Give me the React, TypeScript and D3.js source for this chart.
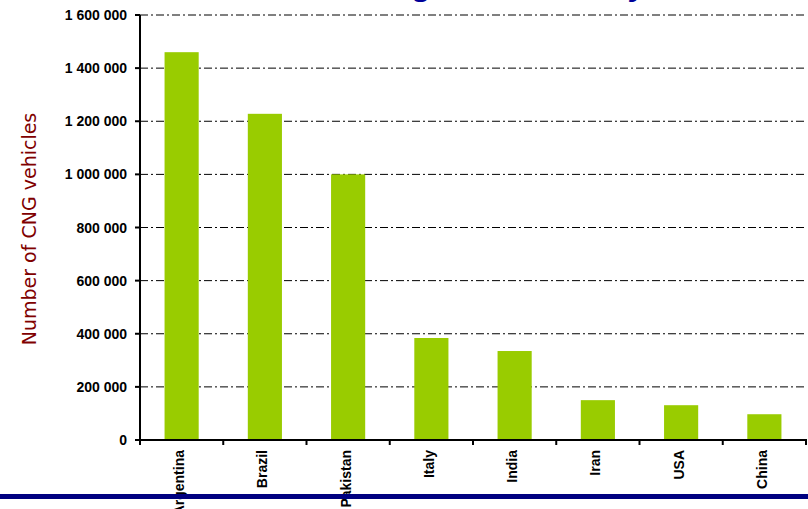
import React from "react";
import * as d3 from "d3";

const countries = ["Argentina", "Brazil", "Pakistan", "Italy", "India", "Iran", "USA", "China"];
const vehicles = [1460000, 1228000, 1000000, 384000, 335000, 150000, 131000, 97000];
const yTicks = [0, 200000, 400000, 600000, 800000, 1000000, 1200000, 1400000, 1600000];

const W = 808;
const H = 509;
const left = 140;
const right = 806;
const top = 15;
const bottom = 440;

const barColor = "#99cc00";
const navy = "#000080";

const fmt = (v: number) => d3.format(",")(v).replace(/,/g, " ");

export default function App() {
  const x = d3.scaleBand<string>().domain(countries).range([left, right]).padding(0);
  const y = d3.scaleLinear().domain([0, 1600000]).range([bottom, top]);
  const bw = x.bandwidth() * 0.41;
  const bounds = [...countries.map((c) => x(c) as number), right];

  return (
    <svg
      width={W}
      height={H}
      style={{ position: "absolute", left: 0, top: 0, background: "#fff" }}
      fontFamily="'Liberation Sans', Arial, sans-serif"
    >
      {/* slide title, running off the top edge */}
      <text
        x={648}
        y={-5.5}
        textAnchor="end"
        fontSize={32}
        fontWeight="bold"
        fontStyle="italic"
        fill="#000099"
      >
        CNG vehicles ranking as of January
      </text>

      {/* horizontal grid */}
      {yTicks.slice(1).map((t) => (
        <line
          key={"g" + t}
          x1={left}
          x2={W - 1}
          y1={y(t)}
          y2={y(t)}
          stroke="#000"
          strokeWidth={1}
          strokeDasharray="8,3,2,3"
        />
      ))}

      {/* bars */}
      {countries.map((c, i) => (
        <rect
          key={c}
          x={(x(c) as number) + (x.bandwidth() - bw) / 2}
          y={y(vehicles[i])}
          width={bw}
          height={bottom - y(vehicles[i])}
          fill={barColor}
        />
      ))}

      {/* y axis */}
      <line x1={left} x2={left} y1={top} y2={bottom} stroke="#000" strokeWidth={2} />
      {yTicks.map((t) => (
        <g key={"y" + t}>
          <line x1={left - 5} x2={left} y1={y(t)} y2={y(t)} stroke="#000" strokeWidth={2} />
          <text
            x={127}
            y={y(t)}
            dy="0.36em"
            textAnchor="end"
            fontSize={14}
            fontWeight="bold"
            fill="#000"
          >
            {fmt(t)}
          </text>
        </g>
      ))}

      {/* x axis */}
      <line x1={left} x2={right + 1} y1={bottom} y2={bottom} stroke="#000" strokeWidth={2} />
      {bounds.map((b, i) => (
        <line key={"t" + i} x1={b} x2={b} y1={bottom} y2={bottom + 5} stroke="#000" strokeWidth={2} />
      ))}
      {countries.map((c) => {
        const cx = (x(c) as number) + x.bandwidth() / 2 + 2.5;
        return (
          <text
            key={"l" + c}
            transform={`translate(${cx},450) rotate(-90)`}
            textAnchor="end"
            fontSize={14}
            fontWeight="bold"
            fill="#000"
          >
            {c}
          </text>
        );
      })}

      {/* axis title */}
      <text
        transform="translate(36,229) rotate(-90)"
        textAnchor="middle"
        fontSize={19}
        fontFamily="'DejaVu Sans', Verdana, sans-serif"
        fill="#800000"
      >
        Number of CNG vehicles
      </text>

      {/* slide footer rule */}
      <rect x={0} y={494} width={W} height={5} fill={navy} />
    </svg>
  );
}
